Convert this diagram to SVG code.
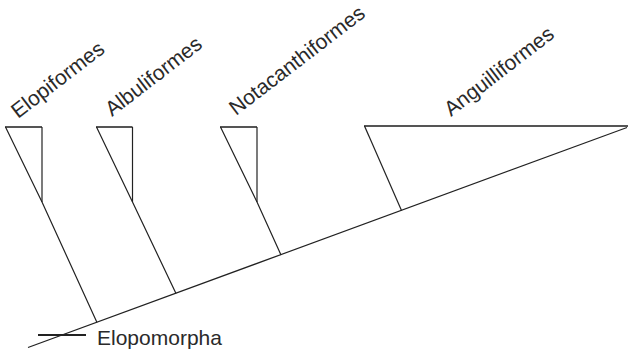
<svg xmlns="http://www.w3.org/2000/svg" width="628" height="350" viewBox="0 0 628 350">
<style>
.ln{stroke:#222;stroke-width:1.2;fill:none;stroke-linecap:butt}
.top{stroke:#555;stroke-width:1.8;fill:none}
.lbl{font-family:"Liberation Sans",Arial,sans-serif;font-size:21px;fill:#2a2a2a}
</style>
<rect width="628" height="350" fill="#fff"/>
<g id="connectors">
<line class="ln" x1="28" y1="347.5" x2="627" y2="127.5"/>
</g>
<g id="elopiformes">
<line class="top" x1="5" y1="127" x2="42" y2="127"/>
<polyline class="ln" points="42,127 42,202"/>
<polyline class="ln" points="5.5,127 42,202 97,322.5"/>
<text class="lbl" transform="translate(18,119) rotate(-37.5)">Elopiformes</text>
</g>
<g id="albuliformes">
<line class="top" x1="96" y1="127" x2="132.5" y2="127"/>
<polyline class="ln" points="132.5,127 132.5,202"/>
<polyline class="ln" points="96.5,127 132.5,202 176,293.5"/>
<text class="lbl" transform="translate(112,117) rotate(-37.5)">Albuliformes</text>
</g>
<g id="notacanthiformes">
<line class="top" x1="220" y1="127" x2="257" y2="127"/>
<polyline class="ln" points="257,127 257,202"/>
<polyline class="ln" points="220.5,127 257,202 281,255"/>
<text class="lbl" transform="translate(236,116) rotate(-37.5)">Notacanthiformes</text>
</g>
<g id="anguilliformes">
<line class="top" x1="364" y1="126" x2="628" y2="126"/>
<polyline class="ln" points="364.5,126 401.5,210.5"/>
<text class="lbl" transform="translate(451,117) rotate(-37.5)">Anguilliformes</text>
</g>
<g id="legend">
<line x1="38" y1="335" x2="86" y2="335" stroke="#222" stroke-width="2.2"/>
<text class="lbl" x="97" y="345">Elopomorpha</text>
</g>
</svg>
